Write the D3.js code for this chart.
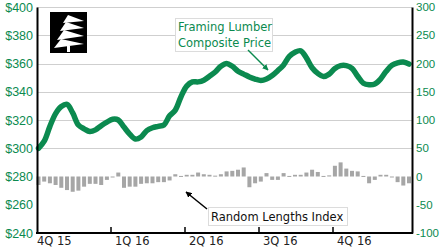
<!DOCTYPE html>
<html>
<head>
<meta charset="utf-8">
<script src="https://cdn.jsdelivr.net/npm/d3@7"></script>
<style>
  body { margin: 0; background: #fff; }
  svg { display: block; font-family: "DejaVu Sans", Verdana, sans-serif; }
</style>
</head>
<body>
<script>
// Weekly framing lumber composite price ($), 4Q 2015 - 4Q 2016
const priceValues = [
  300, 305, 315.5, 324.5, 329.5, 331, 325, 316.5, 313.8, 311.8, 313, 316, 318.5,
  320.5, 320, 315, 310, 306.5, 308, 312.5, 314.5, 315.5, 316.5, 323, 327, 336.5,
  344, 347, 347, 348.2, 351, 354, 358, 360, 358, 354.5, 352.5, 350.5, 349,
  348, 349, 351.5, 355, 359, 365, 368, 369, 364, 357, 353, 350.8, 352.5,
  356.5, 358.5, 358.5, 356.5, 351, 346, 345, 345.5, 349, 354.5, 358.8, 360.5, 361, 359.6
];

// Weekly Random Lengths index change (right axis)
const indexValues = [
  -15, -9, -12, -15, -20, -24, -27, -25, -18, -13, -13, -15, -6,
  -1, 7, -20, -18, -18, -13, -12, -12, -10, -10, -7, 4, 1,
  3, 3, 7, 4, 3, 1.5, 4, 9, 10, 12, 16, -19, -12,
  -9, 6, -6, -6, 6, 1, 3, 3, 7, 12, 8, 1, 2,
  19, 25, 14, 10, 9, 1, -12, -6, 3, 3, -1.5, -10, -16, -12
];

const quarters = ['4Q 15', '1Q 16', '2Q 16', '3Q 16', '4Q 16'];
const leftTicks = [240, 260, 280, 300, 320, 340, 360, 380, 400];
const rightTicks = [-100, -50, 0, 50, 100, 150, 200, 250, 300];
const gridTicks = [300, 320, 340, 360, 380, 400];

const green = '#0b8a4f';
const width = 446, height = 247;
const plot = { left: 37, right: 412, top: 7, bottom: 233 };

const svg = d3.select('body').append('svg')
    .attr('width', width)
    .attr('height', height);

// Scales
const yLeft = d3.scaleLinear().domain([240, 400]).range([plot.bottom, plot.top]);
const yRight = d3.scaleLinear().domain([-100, 300]).range([plot.bottom, plot.top]);
const x = d3.scaleLinear().domain([0, priceValues.length - 1]).range([38.5, 409]);
const xQuarter = d3.scaleBand().domain(quarters).range([plot.left, 407]);

// Gridlines
svg.append('g')
    .selectAll('line')
    .data(gridTicks)
    .enter()
    .append('line')
    .attr('x1', plot.left)
    .attr('x2', plot.right)
    .attr('y1', d => Math.round(yLeft(d)) + 0.5)
    .attr('y2', d => Math.round(yLeft(d)) + 0.5)
    .style('stroke', '#cfcfcf')
    .style('stroke-width', 1);

// Index bars
svg.append('g')
    .selectAll('rect')
    .data(indexValues)
    .enter()
    .append('rect')
    .attr('x', (d, i) => x(i) - 2)
    .attr('y', d => Math.min(yRight(d), yRight(0)))
    .attr('width', 4)
    .attr('height', d => Math.max(1, Math.abs(yRight(d) - yRight(0))))
    .style('fill', '#a6a6a6');

// Price line
const line = d3.line()
    .x((d, i) => x(i))
    .y(d => yLeft(d))
    .curve(d3.curveCatmullRom.alpha(0.5));

svg.append('path')
    .datum(priceValues)
    .attr('d', line)
    .style('fill', 'none')
    .style('stroke', green)
    .style('stroke-width', 5.5)
    .style('stroke-linecap', 'round')
    .style('stroke-linejoin', 'round');

// Left axis
const leftAxis = svg.append('g')
    .attr('transform', `translate(${plot.left},0)`)
    .call(d3.axisLeft(yLeft).tickValues(leftTicks).tickSize(0).tickPadding(4).tickFormat(d => '$' + d));
leftAxis.select('.domain').style('stroke', '#000').style('stroke-width', 2);
leftAxis.selectAll('text').style('fill', green).style('font-size', '12.5px');

// Right axis
const rightAxis = svg.append('g')
    .attr('transform', `translate(${plot.right},0)`)
    .call(d3.axisRight(yRight).tickValues(rightTicks).tickSize(0).tickPadding(4).tickFormat(d => d < 0 ? '-' + Math.abs(d) : d));
rightAxis.select('.domain').style('stroke', '#000').style('stroke-width', 2);
rightAxis.selectAll('text').style('fill', green).style('font-size', '11.5px');

// Bottom axis with quarter ticks pointing up
const bottom = svg.append('g')
    .attr('transform', `translate(0,${plot.bottom})`);
bottom.append('line')
    .attr('x1', plot.left - 1)
    .attr('x2', plot.right + 1)
    .style('stroke', '#000')
    .style('stroke-width', 2);
bottom.selectAll('.qtick')
    .data(quarters.slice(1))
    .enter()
    .append('line')
    .attr('class', 'qtick')
    .attr('x1', d => xQuarter(d))
    .attr('x2', d => xQuarter(d))
    .attr('y1', 0)
    .attr('y2', -6)
    .style('stroke', '#000')
    .style('stroke-width', 1.5);
bottom.selectAll('.qlabel')
    .data(quarters)
    .enter()
    .append('text')
    .attr('class', 'qlabel')
    .attr('x', d => xQuarter(d) + (d === quarters[0] ? 0 : 4))
    .attr('y', 12)
    .style('font-size', '11.5px')
    .style('fill', '#222')
    .text(d => d);

// Logo: black square with a white stylised tree
const logo = svg.append('g').attr('transform', 'translate(50,12)');
logo.append('rect').attr('width', 37).attr('height', 41).style('fill', '#000');
const tiers = [
  'M18,3 L13,11 L34,9 Z',
  'M16,10 L10,19 L34,16 Z',
  'M14,18 L7,28 L34,24 Z',
  'M11,27 L4,36 L34,32 Z'
];
logo.selectAll('path')
    .data(tiers)
    .enter()
    .append('path')
    .attr('d', d => d)
    .style('fill', '#fff');
logo.append('rect').attr('x', 17).attr('y', 34).attr('width', 3).attr('height', 6).style('fill', '#fff');

// Annotation: Framing Lumber Composite Price
const priceNote = svg.append('g');
priceNote.append('rect')
    .attr('x', 175.5).attr('y', 18.5).attr('width', 97).attr('height', 33)
    .style('fill', '#fff').style('stroke', '#dcdcdc');
priceNote.selectAll('text')
    .data(['Framing Lumber', 'Composite Price'])
    .enter()
    .append('text')
    .attr('x', 178)
    .attr('y', (d, i) => 31 + i * 16)
    .style('font-size', '11.5px')
    .style('fill', green)
    .text(d => d);

// Arrow markers
const defs = svg.append('defs');
[['arrowGreen', green], ['arrowBlack', '#000']].forEach(([id, col]) => {
  defs.append('marker')
      .attr('id', id)
      .attr('viewBox', '0 0 10 10')
      .attr('refX', 9).attr('refY', 5)
      .attr('markerWidth', 4).attr('markerHeight', 4)
      .attr('orient', 'auto')
      .append('path')
      .attr('d', 'M0,0 L10,5 L0,10 Z')
      .style('fill', col);
});

svg.append('line')
    .attr('x1', 248).attr('y1', 50).attr('x2', 268).attr('y2', 70)
    .style('stroke', green).style('stroke-width', 1.5)
    .attr('marker-end', 'url(#arrowGreen)');

// Annotation: Random Lengths Index
const indexNote = svg.append('g');
indexNote.append('rect')
    .attr('x', 208.5).attr('y', 207.5).attr('width', 139).attr('height', 18)
    .style('fill', '#fff').style('stroke', '#dcdcdc');
indexNote.append('text')
    .attr('x', 211).attr('y', 220.5)
    .style('font-size', '11.5px')
    .style('fill', '#111')
    .text('Random Lengths Index');

svg.append('line')
    .attr('x1', 207).attr('y1', 209).attr('x2', 186).attr('y2', 192)
    .style('stroke', '#000').style('stroke-width', 1.5)
    .attr('marker-end', 'url(#arrowBlack)');
</script>
</body>
</html>
